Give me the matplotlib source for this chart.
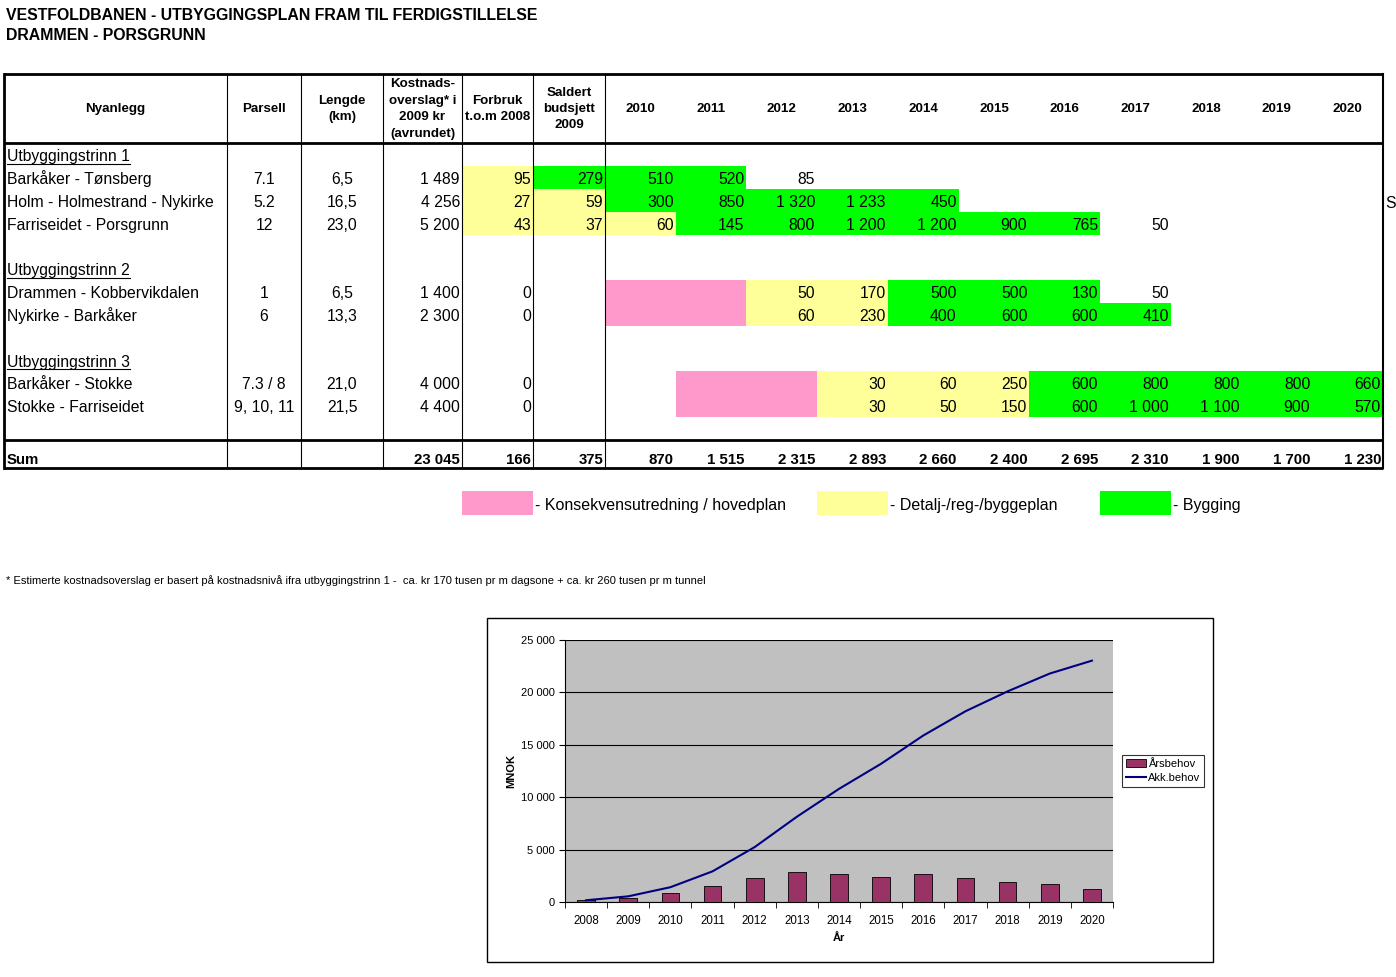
import matplotlib.pyplot as plt
from matplotlib.patches import Rectangle
from matplotlib.ticker import FuncFormatter
import numpy as np

# Tabell-data
title1 = 'VESTFOLDBANEN - UTBYGGINGSPLAN FRAM TIL FERDIGSTILLELSE'
title2 = 'DRAMMEN - PORSGRUNN'
headers = ['Nyanlegg', 'Parsell', 'Lengde\n(km)', 'Kostnads-\noverslag* i\n2009 kr\n(avrundet)',
           'Forbruk\nt.o.m 2008', 'Saldert\nbudsjett\n2009']
years = ['2010', '2011', '2012', '2013', '2014', '2015', '2016', '2017', '2018', '2019', '2020']

groups = ['Utbyggingstrinn 1', 'Utbyggingstrinn 2', 'Utbyggingstrinn 3']
names = [['Barkåker - Tønsberg', 'Holm - Holmestrand - Nykirke', 'Farriseidet - Porsgrunn'],
         ['Drammen - Kobbervikdalen', 'Nykirke - Barkåker'],
         ['Barkåker - Stokke', 'Stokke - Farriseidet']]
parsell = [['7.1', '5.2', '12'], ['1', '6'], ['7.3 / 8', '9, 10, 11']]
lengde = [['6,5', '16,5', '23,0'], ['6,5', '13,3'], ['21,0', '21,5']]
kostnad = [['1 489', '4 256', '5 200'], ['1 400', '2 300'], ['4 000', '4 400']]
# Forbruk, Saldert, 2010..2020
belop = [[['95', '279', '510', '520', '85', '', '', '', '', '', '', '', ''],
          ['27', '59', '300', '850', '1 320', '1 233', '450', '', '', '', '', '', ''],
          ['43', '37', '60', '145', '800', '1 200', '1 200', '900', '765', '50', '', '', '']],
         [['0', '', '', '', '50', '170', '500', '500', '130', '50', '', '', ''],
          ['0', '', '', '', '60', '230', '400', '600', '600', '410', '', '', '']],
         [['0', '', '', '', '', '30', '60', '250', '600', '800', '800', '800', '660'],
          ['0', '', '', '', '', '30', '50', '150', '600', '1 000', '1 100', '900', '570']]]
# fase: k = konsekvensutredning, d = detaljplan, b = bygging
fase = [['dbbb.........', 'ddbbbbb......', 'dddbbbbbb....'],
        ['..kkddbbb....', '..kkddbbbb...'],
        ['...kkdddbbbbb', '...kkdddbbbbb']]
sum_row = ['23 045', '166', '375', '870', '1 515', '2 315', '2 893', '2 660', '2 400',
           '2 695', '2 310', '1 900', '1 700', '1 230']
legend_labels = ['- Konsekvensutredning / hovedplan', '- Detalj-/reg-/byggeplan', '- Bygging']
footnote = ('* Estimerte kostnadsoverslag er basert på kostnadsnivå ifra utbyggingstrinn 1 -  '
            'ca. kr 170 tusen pr m dagsone + ca. kr 260 tusen pr m tunnel')

# Diagram-data
ar = ['2008', '2009', '2010', '2011', '2012', '2013', '2014', '2015', '2016', '2017', '2018', '2019', '2020']
arsbehov = [166, 375, 870, 1515, 2315, 2893, 2660, 2400, 2695, 2310, 1900, 1700, 1230]
akk_behov = [166, 541, 1411, 2926, 5241, 8134, 10794, 13194, 15889, 18199, 20099, 21799, 23029]

farger = {'k': '#FF99CC', 'd': '#FFFF99', 'b': '#00FF00'}
narrow = ['Liberation Sans Narrow', 'Liberation Sans', 'DejaVu Sans']
arial = ['Liberation Sans', 'DejaVu Sans']

fig = plt.figure(figsize=(13.96, 9.77), dpi=100)
ax = fig.add_axes([0, 0, 1, 1])
ax.set_xlim(0, 1396)
ax.set_ylim(977, 0)
ax.axis('off')

ax.text(6, 16, title1, fontsize=11.4, fontweight='bold', family=arial, va='center')
ax.text(6, 35, title2, fontsize=11.4, fontweight='bold', family=arial, va='center')

# kolonnegrenser
year_w = (1383 - 605) / 11
col_x = [4, 227, 301, 383, 462, 533, 605] + [605 + (i + 1) * year_w for i in range(11)]
data_x = col_x[4:]  # venstre kant Forbruk, Saldert, 2010..

# overskrift
for i, h in enumerate(headers):
    ax.text((col_x[i] + col_x[i + 1]) / 2, 109, h, ha='center', va='center', fontsize=9.6,
            fontweight='bold', family=arial, linespacing=1.5)
for j, y in enumerate(years):
    ax.text(col_x[6 + j] + year_w / 2, 109, y, ha='center', va='center', fontsize=9.6,
            fontweight='bold', family=arial)

row_h = 23
group_top = [143, 257, 348]
fs = 11.3
tk = dict(fontsize=fs, family=narrow, va='baseline')
base = 6.5  # grunnlinje under radens midte
for g in range(3):
    y0 = group_top[g]
    t = ax.text(7, y0 + 12 + base, groups[g], **tk)
    fig.canvas.draw()
    bb = t.get_window_extent().transformed(ax.transData.inverted())
    ax.plot([7, bb.x1], [y0 + 21, y0 + 21], color='black', lw=0.8)
    for r in range(len(names[g])):
        top = y0 + row_h * (r + 1)
        cy = top + row_h / 2 + base
        for c, f in enumerate(fase[g][r]):
            if f in farger:
                x0 = data_x[c]
                x1 = data_x[c + 1] if c + 1 < len(data_x) else 1383
                ax.add_patch(Rectangle((x0, top), x1 - x0, row_h, color=farger[f], lw=0, zorder=0))
        ax.text(7, cy, names[g][r], **tk)
        ax.text((col_x[1] + col_x[2]) / 2, cy, parsell[g][r], ha='center', **tk)
        ax.text((col_x[2] + col_x[3]) / 2, cy, lengde[g][r], ha='center', **tk)
        ax.text(col_x[4] - 2, cy, kostnad[g][r], ha='right', **tk)
        for c, v in enumerate(belop[g][r]):
            x1 = data_x[c + 1] if c + 1 < len(data_x) else 1383
            ax.text(x1 - 2, cy, v, ha='right', **tk)

ax.text(1385, 201.5 + base, 'S', **tk)

# sum-rad
ax.text(7, 464, 'Sum', fontsize=10.8, fontweight='bold', family=narrow, va='baseline')
for c, v in enumerate(sum_row):
    x1 = col_x[c + 4]
    ax.text(x1 - 2, 464, v, fontsize=10.8, fontweight='bold', family=narrow,
            va='baseline', ha='right')

# linjer
for y in [74, 143, 440, 468]:
    ax.plot([4, 1383], [y, y], color='black', lw=2, solid_capstyle='butt')
ax.plot([4, 4], [74, 468], color='black', lw=2)
ax.plot([1383, 1383], [74, 468], color='black', lw=1.5)
for x in col_x[1:7]:
    ax.plot([x, x], [74, 468], color='black', lw=0.8)

# tegnforklaring
for (x0, f), lab in zip([(462, 'k'), (817, 'd'), (1100, 'b')], legend_labels):
    ax.add_patch(Rectangle((x0, 491), 71, 24, color=farger[f], lw=0))
    ax.text(x0 + 73, 510, lab, fontsize=11.5, family=narrow, va='baseline')

ax.text(6, 581, footnote, fontsize=8.0, family=arial, va='center')

# diagramramme
ax.add_patch(Rectangle((487, 618), 726, 344, fill=False, lw=1, ec='black'))

# diagram
cax = fig.add_axes([565 / 1396, (977 - 902) / 977, (1113 - 565) / 1396, (902 - 640) / 977])
x = np.arange(len(ar))
cax.set_facecolor('#C0C0C0')
bars = cax.bar(x, arsbehov, width=0.42, color='#993366', edgecolor='black', lw=0.6, zorder=3)
line, = cax.plot(x, akk_behov, color='#000080', lw=1.5, zorder=4)
cax.set_xlim(-0.5, len(ar) - 0.5)
cax.set_ylim(0, 25000)
cax.set_yticks(range(0, 25001, 5000))
cax.yaxis.set_major_formatter(FuncFormatter(lambda v, p: f'{int(v):,}'.replace(',', ' ')))
cax.grid(axis='y', color='black', lw=0.8, zorder=1)
cax.set_xticks(x)
cax.set_xticklabels(ar)
cax.set_xticks(np.arange(-0.5, len(ar), 1), minor=True)
cax.tick_params(axis='x', which='major', length=0, labelsize=8.3, pad=9)
cax.tick_params(axis='x', which='minor', length=4, direction='out')
cax.tick_params(axis='y', labelsize=8, length=4, direction='out')
for lbl in cax.get_xticklabels() + cax.get_yticklabels():
    lbl.set_family(arial)
for s in ['top', 'right']:
    cax.spines[s].set_visible(False)
cax.spines['left'].set_linewidth(0.8)
cax.spines['bottom'].set_linewidth(0.8)
cax.set_xlabel('År', fontsize=8, fontweight='bold', family=arial, labelpad=5)
cax.set_ylabel('MNOK', fontsize=8, fontweight='bold', family=arial, labelpad=3)
leg = cax.legend([bars, line], ['Årsbehov', 'Akk.behov'], loc='center left',
                 bbox_to_anchor=(1.01, 0.5), frameon=True, fancybox=False, edgecolor='black',
                 borderpad=0.35, handlelength=1.8, handletextpad=0.2, borderaxespad=0.3,
                 labelspacing=0.4, prop={'family': arial, 'size': 8})
leg.get_frame().set_linewidth(0.8)

fig.savefig('out.png', dpi=100)
